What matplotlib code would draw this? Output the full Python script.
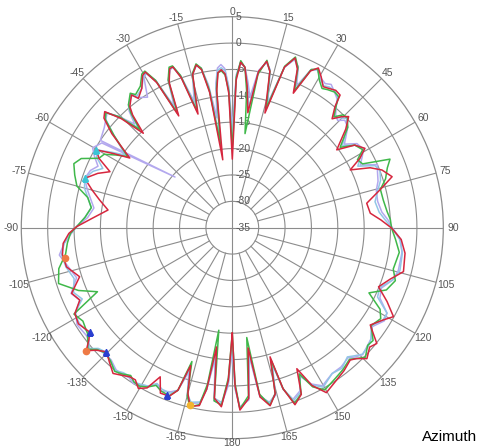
import numpy as np
import matplotlib
matplotlib.use("Agg")
import matplotlib.pyplot as plt
from matplotlib import transforms

# ---------------- data (azimuth in degrees, level in dB) ----------------
red_az = [
    -180, -178.5, -176.5, -174, -172.5, -171, -169.5, -166.7, -165, -163.2,
    -161.5, -159.5, -156.5, -154.2, -152, -149.7, -147.5, -145.5, -143, -140.7,
    -137.5, -134.6, -132, -130.1, -128, -126.2, -122, -118.6, -115.4, -112.2,
    -107.8, -103.3, -99, -95.3, -92, -89.6, -86, -81.9, -78.2, -75,
    -71.5, -68, -65.4, -62.5, -60.2, -58, -55.8, -52, -49.5, -47.7,
    -45.5, -43.3, -41.5, -40.2, -37.2, -36, -33, -30.5, -29.2, -27.5,
    -25.6, -23.5, -21.5, -20.3, -18.8, -16.8, -14.5, -12.5, -11, -9.5,
    -8, -6.5, -5.3, -4, -2.7, -1.5, 0, 1.5, 2.9, 4.5,
    6, 7.7, 9.5, 11.7, 13.5, 15.9, 18, 20.3, 22.3, 24.4,
    26.5, 28.3, 30.5, 32.8, 34.6, 37, 39.1, 40.3, 42.5, 44.5,
    46.3, 49, 53.3, 56, 59.1, 61.5, 63.9, 66.5, 68.9, 72.3,
    75.5, 79.7, 84, 87, 90.2, 94, 98.4, 104.4, 108, 112,
    115.5, 118.9, 121.5, 125.2, 128.7, 131, 134.2, 136.5, 138.3, 142,
    145.6, 150.3, 153.2, 155.4, 157.5, 160.5, 162.5, 163.7, 165.5, 168,
    170.7, 172.5, 174.5, 177.6, 179, 180]
red_db = [
    -15.0, -6.0, -1.0, -2.5, -12.2, -4.0, -0.7, -0.2, -2.5, -7.7,
    -2.5, -0.9, -0.8, -3.6, -0.6, 0.3, -0.8, -0.7, 0.0, 0.7,
    -0.5, -1.5, -0.3, 1.2, -0.5, -1.5, -0.6, -1.0, -3.0, -2.1,
    -4.6, -2.7, -2.4, -2.8, -4.0, -5.5, -8.5, -11.2, -9.3, -7.5,
    -5.5, -7.5, -9.5, -6.5, -5.3, -8.5, -11.5, -6.0, -3.0, -2.3,
    -5.5, -10.4, -6.5, -4.9, -3.4, -4.7, -3.5, -1.5, -1.2, -4.0,
    -11.5, -5.0, -2.6, -2.5, -5.0, -12.5, -5.0, -3.4, -4.5, -9.0,
    -22.0, -9.0, -5.5, -5.0, -5.8, -9.5, -22.0, -7.0, -3.6, -4.5,
    -8.0, -13.0, -5.0, -2.8, -4.5, -12.4, -3.0, -0.7, -2.5, -7.0,
    -1.8, -0.6, -1.8, -3.2, -2.9, -2.4, -2.6, -4.9, -7.0, -5.5,
    -4.5, -6.5, -10.3, -7.0, -5.7, -7.5, -10.1, -6.5, -4.6, -3.2,
    -6.0, -9.1, -8.7, -6.8, -4.75, -2.9, -1.9, -1.5, -3.5, -5.1,
    -2.5, -0.1, -1.5, -3.0, 0.1, -0.5, 0.6, -0.8, -1.4, -0.6,
    0.0, 1.0, -1.5, -5.6, -0.8, 0.6, -3.0, -9.5, -2.5, -0.5,
    -2.5, -12.0, -2.5, -0.4, -5.0, -15.0]

green_az = list(red_az)
green_db = [
    -15.0, -6.5, -1.3, -2.0, -15.4, -5.0, -0.9, -0.1, -2.0, -8.5,
    -2.5, -1.0, -1.2, -1.8, -0.8, -0.2, -0.3, -1.0, -0.3, 0.2,
    -0.8, -1.2, -0.5, 0.8, -0.2, -1.0, -1.6, -0.8, -6.7, -3.5,
    -0.4, -1.2, -3.0, -3.6, -4.3, -5.5, -7.0, -8.0, -7.0, -4.5,
    -3.5, -2.6, -3.5, -6.5, -7.0, -9.0, -11.0, -6.5, -3.3, -2.6,
    -5.0, -9.5, -6.0, -4.5, -3.0, -3.8, -3.0, -1.2, -1.0, -3.5,
    -11.0, -4.5, -2.3, -2.3, -4.5, -12.0, -4.8, -3.2, -4.2, -8.5,
    -19.0, -8.5, -5.5, -5.2, -6.0, -9.0, -20.0, -6.5, -3.3, -4.5,
    -9.0, -17.0, -5.5, -2.6, -4.5, -11.5, -2.8, -0.5, -2.2, -6.5,
    -1.5, -0.8, -2.5, -3.6, -3.2, -2.8, -3.0, -4.5, -6.5, -5.0,
    -4.8, -6.0, -9.5, -7.0, -6.2, -8.0, -7.5, -2.4, -3.5, -4.5,
    -6.0, -5.9, -5.5, -5.0, -4.8, -4.0, -3.0, -3.5, -2.5, -3.5,
    -6.3, -3.0, -2.0, -2.8, -0.8, -1.0, 0.2, -0.8, -1.6, -0.9,
    -0.4, 0.4, -1.2, -4.5, -0.9, 0.3, -3.0, -9.0, -2.5, -0.6,
    -3.0, -14.0, -3.0, -0.6, -5.5, -15.0]

lavender_az = [
    -180, -178.5, -176.5, -174, -172.5, -171, -169.5, -166.7, -165, -163.2,
    -161.5, -159.5, -156.5, -154.2, -152, -149.7, -147.5, -145.5, -143, -140.7,
    -137.5, -134.6, -132, -130.1, -128, -126.2, -122, -118.6, -115.4, -112.2,
    -107.8, -103.3, -99, -95.3, -92, -89.6, -86, -81.9, -78.2, -75,
    -71.5, -68, -65.4, -62.5, -60.2, -57, -48.5, -56.5, -52, -47.5,
    -45.5, -43.3, -41.5, -40.2, -37.2, -36, -33, -30.5, -29.2, -27.5,
    -25.6, -23.5, -21.5, -20.3, -18.8, -16.8, -14.5, -12.5, -11, -9.5,
    -8, -6.5, -5.3, -4, -2.7, -1.5, 0, 1.5, 2.9, 4.5,
    6, 7.7, 9.5, 11.7, 13.5, 15.9, 18, 20.3, 22.3, 24.4,
    26.5, 28.3, 30.5, 32.8, 34.6, 37, 39.1, 40.3, 42.5, 44.5,
    46.3, 49, 53.3, 56, 59.1, 61.5, 63.9, 66.5, 68.9, 72.3,
    75.5, 79.7, 84, 87, 90.2, 94, 98.4, 104.4, 108, 112,
    115.5, 118.9, 121.5, 125.2, 128.7, 131, 134.2, 136.5, 138.3, 142,
    145.6, 150.3, 153.2, 155.4, 157.5, 160.5, 162.5, 163.7, 165.5, 168,
    170.7, 172.5, 174.5, 177.6, 179, 180]
lavender_db = [
    -12.0, -5.0, -1.5, -2.0, -10.0, -4.0, -1.2, -0.8, -2.0, -6.5,
    -2.5, -1.8, -1.2, -2.0, -1.0, -0.5, 0.0, -0.5, -0.2, -0.2,
    -1.0, -1.0, -0.6, 0.5, -0.5, -0.6, -0.3, -1.2, -3.0, -2.0,
    -4.0, -3.0, -1.8, -3.0, -4.5, -5.5, -7.5, -8.5, -7.5, -6.5,
    -5.5, -6.0, -7.0, -5.5, -4.5, -5.5, -20.5, -5.0, -4.2, -2.8,
    -5.0, -8.0, -5.5, -4.5, -3.5, -4.5, -5.5, -2.0, -1.5, -3.5,
    -9.5, -4.5, -2.8, -2.6, -4.5, -10.0, -4.8, -3.5, -4.2, -7.5,
    -14.0, -7.5, -4.6, -4.0, -4.8, -8.0, -16.0, -6.0, -3.6, -4.5,
    -7.0, -10.0, -4.8, -3.0, -4.2, -10.5, -3.0, -1.0, -2.0, -5.5,
    -1.5, -1.0, -2.0, -2.5, -2.0, -2.8, -3.5, -4.5, -6.0, -6.5,
    -5.5, -6.0, -8.5, -6.5, -6.0, -7.0, -8.0, -5.0, -5.5, -6.0,
    -6.8, -7.0, -6.5, -5.5, -4.6, -3.0, -2.5, -2.5, -3.0, -4.5,
    -4.0, -1.5, -1.2, -2.5, -1.3, -1.0, -0.5, -1.2, -2.0, -1.5,
    -1.5, -0.5, -1.8, -4.0, -1.5, -0.5, -2.8, -8.0, -2.2, -1.2,
    -2.5, -10.5, -2.2, -1.0, -4.5, -12.0]

skyblue_az = list(red_az)
skyblue_db = [
    -13.0, -5.5, -1.8, -2.5, -11.0, -4.0, -1.4, -1.0, -2.2, -7.0,
    -2.5, -1.5, -1.6, -2.2, -1.0, -0.6, -0.3, -0.8, -0.6, 0.0,
    -0.8, -1.4, -0.8, 0.6, -0.4, -1.2, -0.8, -1.0, -3.5, -2.5,
    -3.5, -2.6, -2.2, -3.0, -4.3, -5.5, -7.0, -8.0, -7.0, -6.0,
    -5.5, -6.5, -8.0, -6.0, -5.3, -8.0, -10.5, -6.5, -3.5, -2.5,
    -5.0, -9.0, -6.0, -4.6, -3.2, -4.2, -3.5, -1.8, -1.4, -3.8,
    -10.5, -4.8, -2.7, -2.5, -4.8, -11.0, -5.0, -3.4, -4.4, -8.0,
    -18.0, -8.0, -5.0, -4.6, -5.2, -8.5, -18.0, -6.5, -3.5, -4.5,
    -7.5, -12.0, -5.0, -2.9, -4.4, -11.0, -3.0, -0.9, -2.3, -6.5,
    -1.7, -0.9, -2.2, -3.0, -2.6, -2.6, -3.2, -4.6, -6.5, -5.8,
    -5.0, -6.2, -9.0, -7.0, -5.8, -7.5, -8.5, -5.5, -5.0, -5.5,
    -6.5, -7.5, -7.0, -6.0, -4.7, -3.2, -2.4, -2.2, -3.0, -4.8,
    -4.5, -1.5, -1.5, -2.8, -1.3, -0.8, -0.6, -1.5, -2.2, -1.2,
    -1.5, -0.2, -1.6, -4.5, -1.2, -0.2, -3.0, -8.5, -2.5, -1.0,
    -2.8, -11.0, -2.5, -0.8, -4.5, -13.0]

# marker points
cyan_mark_az = [-60.2, -71.5]
cyan_mark_db = [-5.3, -5.5]
orange_mark_az = [-100.4, -130.1]
orange_mark_db = [-2.7, 1.2]
yellow_mark_az = [-166.5]
yellow_mark_db = [-0.5]
blue_mark_az = [-126.2, -134.6, -158.6]
blue_mark_db = [-1.5, -1.5, -0.9]

# axis labels
angle_ticks = list(range(-165, 181, 15))
ring_levels = [5, 0, -5, -10, -15, -20, -25, -30, -35]
r_min, r_max = -35, 5

# ---------------- figure ----------------
W, H, DPI = 480, 447, 100
fig = plt.figure(figsize=(W / DPI, H / DPI), dpi=DPI)
fig.patch.set_facecolor("white")
R_PX = 211
cx, cy = 232.3, H - 227.7
ax = fig.add_axes([(cx - R_PX) / W, (cy - R_PX) / H, 2 * R_PX / W, 2 * R_PX / H],
                  projection="polar")
ax.set_theta_zero_location("N")
ax.set_theta_direction(-1)
ax.set_ylim(r_min, r_max)
ax.set_xticks([])
ax.set_yticks([])
ax.grid(False)
ax.set_facecolor("white")
grid_col = "#8c8c8c"
ax.spines["polar"].set_color(grid_col)
ax.spines["polar"].set_linewidth(0.9)

# rings
full = np.linspace(0, 2 * np.pi, 721)
for lv in ring_levels[1:-1]:
    ax.plot(full, np.full_like(full, lv), color=grid_col, lw=0.8, zorder=1)
# spokes
for a in range(0, 360, 15):
    start = r_min if a % 90 == 0 else -30
    ax.plot([np.radians(a)] * 2, [start, r_max], color=grid_col, lw=0.8, zorder=1)

font_lab = dict(family="Liberation Sans", fontsize=7.5, color="#555555")
db_per_px = (r_max - r_min) / R_PX
# angle labels
for a in angle_ticks:
    pad_px = 4.5 + 5.5 * abs(np.sin(np.radians(a)))
    ax.text(np.radians(a), r_max + pad_px * db_per_px, str(a),
            ha="center", va="center", **font_lab)
# radial labels
off = transforms.offset_copy(ax.transData, fig=fig, x=3.5, y=0, units="dots")
for lv in ring_levels:
    ax.text(0, lv, str(lv), transform=off, ha="left", va="center", **font_lab)

# curves
series = [
    (lavender_az, lavender_db, "#b3a8ee"),
    (skyblue_az, skyblue_db, "#92c6e6"),
    (green_az, green_db, "#3fb84a"),
    (red_az, red_db, "#d6263e"),
]
for az, db, col in series:
    ax.plot(np.radians(az), db, color=col, lw=1.1, zorder=3)

ax.plot(np.radians(cyan_mark_az), cyan_mark_db, ls="none", marker="^", ms=5,
        color="#3cc4d6", zorder=4)
ax.plot(np.radians(orange_mark_az), orange_mark_db, ls="none", marker="o", ms=4.5,
        color="#ee7a45", zorder=4)
ax.plot(np.radians(yellow_mark_az), yellow_mark_db, ls="none", marker="o", ms=4.5,
        color="#f2b430", zorder=4)
ax.plot(np.radians(blue_mark_az), blue_mark_db, ls="none", marker="^", ms=5,
        color="#2a3fd0", zorder=4)

fig.text(422 / W, (H - 437) / H, "Azimuth", family="Liberation Sans", fontsize=11,
         color="black", ha="left", va="center")

fig.savefig("out.png", dpi=DPI, facecolor="white")
